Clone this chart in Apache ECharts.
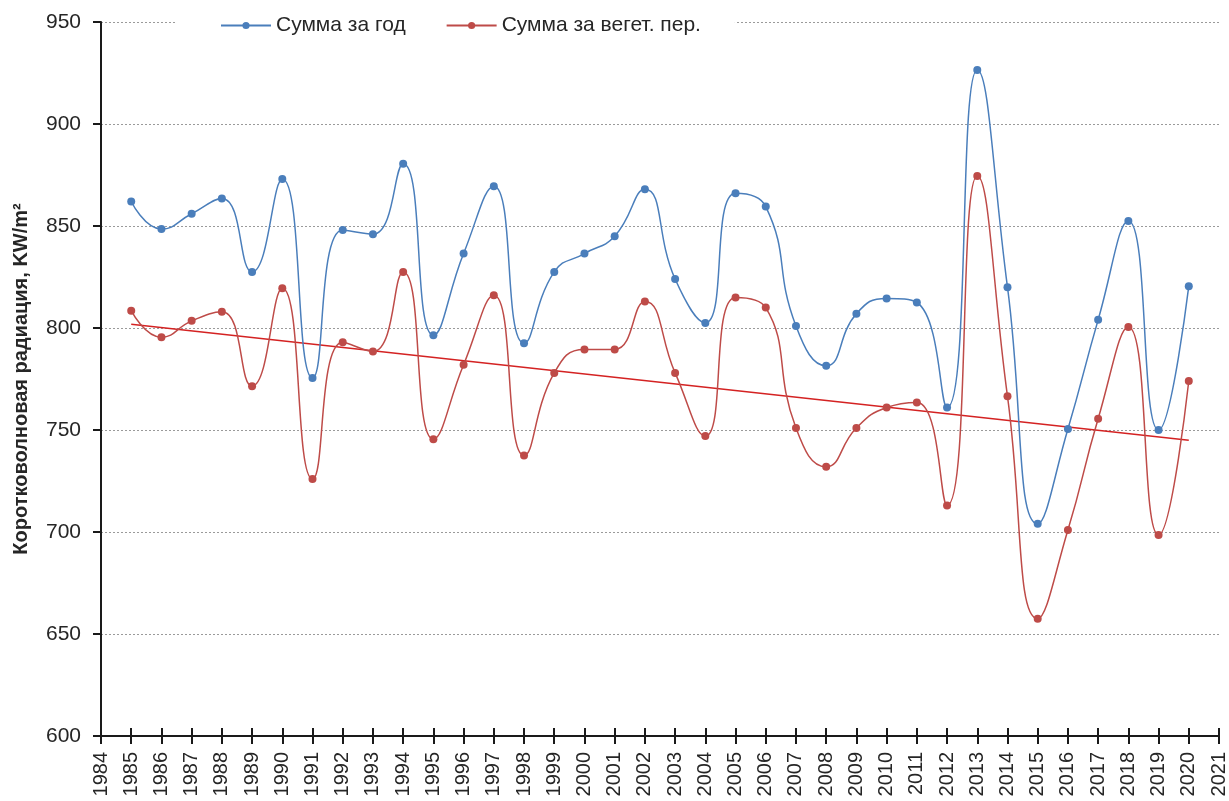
<!DOCTYPE html>
<html>
<head>
<meta charset="utf-8">
<script src="https://cdn.jsdelivr.net/npm/echarts@6/dist/echarts.min.js"></script>
<style>
  html, body { margin: 0; padding: 0; background: #fff; }
  #chart { width: 1229px; height: 801px; }
</style>
</head>
<body>
<div id="chart"></div>
<script>
// Observation years
const years = [1985, 1986, 1987, 1988, 1989, 1990, 1991, 1992, 1993, 1994,
  1995, 1996, 1997, 1998, 1999, 2000, 2001, 2002, 2003, 2004,
  2005, 2006, 2007, 2008, 2009, 2010, 2011, 2012, 2013, 2014,
  2015, 2016, 2017, 2018, 2019, 2020];

// Annual total of shortwave radiation
const annualSum = [862, 848.5, 856, 863.5, 827.5, 873, 775.5, 848, 846, 880.5,
  796.5, 836.5, 869.5, 792.5, 827.5, 836.5, 845, 868, 824, 802.5,
  866, 859.5, 801, 781.5, 807, 814.5, 812.5, 761, 926.5, 820,
  704, 750.5, 804, 852.5, 750, 820.5];

// Total for the growing season
const vegSum = [808.5, 795.5, 803.5, 808, 771.5, 819.5, 726, 793, 788.5, 827.5,
  745.5, 782, 816, 737.5, 778, 789.5, 789.5, 813, 778, 747,
  815, 810, 751, 732, 751, 761, 763.5, 713, 874.5, 766.5,
  657.5, 701, 755.5, 800.5, 698.5, 774];

const seriesNames = ['Сумма за год', 'Сумма за вегет. пер.'];
const yAxisTitle = 'Коротковолновая радиация, KW/m²';

// Least-squares linear trend of the growing-season series
function linearTrend(xs, ys) {
  const n = xs.length;
  const mx = xs.reduce((a, b) => a + b, 0) / n;
  const my = ys.reduce((a, b) => a + b, 0) / n;
  let sxy = 0, sxx = 0;
  for (let i = 0; i < n; i++) {
    sxy += (xs[i] - mx) * (ys[i] - my);
    sxx += (xs[i] - mx) * (xs[i] - mx);
  }
  const slope = sxy / sxx;
  const icpt = my - slope * mx;
  const x0 = xs[0], x1 = xs[n - 1];
  return [[x0, icpt + slope * x0], [x1, icpt + slope * x1]];
}

const pairs = (xs, ys) => xs.map((x, i) => [x, ys[i]]);

const FONT = 'Liberation Sans';
const TEXT = '#262626';
const AXIS = '#1a1a1a';
const gridBox = { left: 101, right: 10, top: 22, bottom: 65, outerBoundsMode: 'none' };
const xRange = { type: 'value', min: 1984, max: 2021, interval: 1 };
const yRange = { type: 'value', min: 600, max: 950, interval: 50 };

const chart = echarts.init(document.getElementById('chart'), null, { renderer: 'canvas' });

chart.setOption({
  animation: false,
  backgroundColor: '#fff',
  textStyle: { fontFamily: FONT },
  // second grid shares the same box; its x axis adds the inward half of the crossing ticks
  grid: [Object.assign({}, gridBox), Object.assign({}, gridBox)],
  legend: {
    data: seriesNames,
    left: 175, top: 11,
    padding: [4, 34, 4, 45],
    backgroundColor: '#fff',
    itemWidth: 50, itemHeight: 9, itemGap: 40,
    textStyle: { fontSize: 21, color: TEXT, fontFamily: FONT }
  },
  xAxis: [Object.assign({}, xRange, {
    gridIndex: 0,
    axisLine: { lineStyle: { color: AXIS, width: 2 } },
    axisTick: { show: true, length: 8, lineStyle: { color: AXIS, width: 2 } },
    axisLabel: {
      rotate: 90, fontSize: 20, color: TEXT, margin: 16,
      formatter: v => String(v)
    },
    splitLine: { show: false }
  }), Object.assign({}, xRange, {
    gridIndex: 1, position: 'bottom',
    axisLine: { show: true, lineStyle: { color: AXIS, width: 2 } },
    axisTick: { show: true, inside: true, length: 8, lineStyle: { color: AXIS, width: 2 } },
    axisLabel: { show: false },
    splitLine: { show: false }
  })],
  yAxis: [Object.assign({}, yRange, {
    gridIndex: 0,
    name: yAxisTitle,
    nameLocation: 'middle',
    nameGap: 70,
    nameTextStyle: { fontSize: 20, fontWeight: 'bold', color: TEXT, fontFamily: FONT },
    axisLine: { show: true, lineStyle: { color: AXIS, width: 2 } },
    axisTick: { show: true, length: 8, lineStyle: { color: AXIS, width: 2 } },
    axisLabel: { fontSize: 21, color: TEXT, margin: 20 },
    splitLine: { show: true, lineStyle: { color: '#9a9a9a', width: 1, type: [2, 2] } }
  }), Object.assign({}, yRange, {
    gridIndex: 1, show: false
  })],
  series: [{
    name: 'trend',
    type: 'line',
    xAxisIndex: 1, yAxisIndex: 1,
    data: linearTrend(years, vegSum),
    symbol: 'none',
    lineStyle: { color: '#d42222', width: 1.5 },
    z: 2,
    silent: true
  }, {
    name: seriesNames[0],
    type: 'line',
    data: pairs(years, annualSum),
    smooth: 0.5,
    symbol: 'circle', symbolSize: 8,
    itemStyle: { color: '#4a7ebb' },
    lineStyle: { color: '#4a7ebb', width: 1.5 },
    z: 3
  }, {
    name: seriesNames[1],
    type: 'line',
    data: pairs(years, vegSum),
    smooth: 0.5,
    symbol: 'circle', symbolSize: 8,
    itemStyle: { color: '#be4b48' },
    lineStyle: { color: '#be4b48', width: 1.5 },
    z: 3
  }]
});
</script>
</body>
</html>
